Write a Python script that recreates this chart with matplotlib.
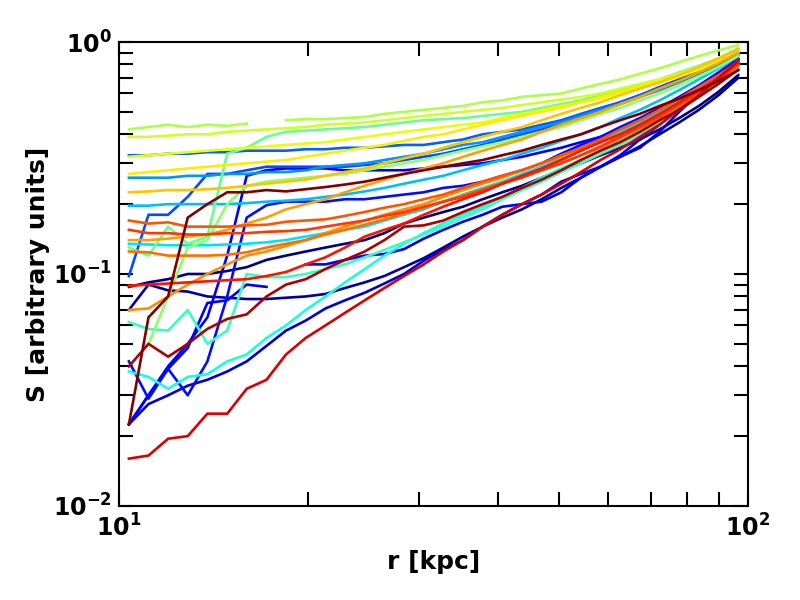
import numpy as np
import matplotlib
matplotlib.use("Agg")
import matplotlib.pyplot as plt
from matplotlib.ticker import FixedLocator, LogLocator, NullFormatter

nan = np.nan

# radius grid [kpc]
r = [10.37, 11.14, 11.97, 12.86, 13.82, 14.86, 15.96, 17.16, 18.43, 19.81,
     21.29, 22.87, 24.58, 26.42, 28.39, 30.51, 32.78, 35.23, 37.86, 40.68,
     43.72, 46.98, 50.48, 54.25, 58.29, 62.64, 67.32, 72.33, 77.74, 83.54,
     89.77, 96.47]

# S profiles (arbitrary units), one per object
s_q1 = [.088,.092,.095,.10,.10,.103,.107,.115,.12,.125,.13,.135,.14,.15,.165,.175,.185,.195,.21,.225,.24,.26,.28,.30,.325,.35,.38,.42,.47,.53,.61,.72]
s_q2 = [.07,.09,.085,.084,.08,.079,.078,.078,.079,.08,.082,.087,.092,.098,.107,.117,.13,.145,.16,.175,.19,.21,.235,.26,.29,.32,.355,.40,.45,.51,.59,.70]
s_p = [.0225,.0275,.03,.033,.035,.038,.042,.049,.057,.063,.071,.077,.083,.091,.10,.114,.127,.14,.16,.18,.20,.22,.25,.27,.29,.32,.35,.41,.50,.60,.72,.84]
s_n3 = [.0225,.03,.039,.048,.075,.077,.09,.088,nan,.11,.11,.115,.12,.122,.128,.142,.155,.168,.18,.195,.20,.205,.225,.26,.29,.325,.38,.44,.52,.62,.73,.84]
s_n2 = [.0225,.03,.04,.05,.065,.12,.265,.28,.285,.285,.285,.28,.28,.28,.28,.285,.29,.295,.30,.31,.32,.335,.35,.37,.39,.42,.45,.49,.55,.62,.71,.83]
s_z = [.042,.029,.039,.03,.042,.08,.175,.198,.205,.205,.205,.21,.21,.215,.22,.225,.235,.24,.25,.265,.28,.30,.33,.36,.39,.43,.47,.52,.58,.65,.74,.85]
s_n1 = [.098,.18,.18,.215,.27,.27,.28,.29,.29,.29,.29,.29,.295,.30,.31,.32,.33,.345,.36,.38,.40,.42,.45,.48,.51,.55,.59,.64,.69,.75,.82,.90]
s_d = [.325,.325,.33,.33,.335,.335,.34,.34,.34,.345,.345,.35,.35,.355,.36,.36,.37,.38,.40,.41,.42,.44,.46,.49,.52,.55,.59,.63,.68,.74,.81,.88]
s_f = [.26,.26,.26,.265,.265,.27,.27,.275,.275,.28,.29,.295,.30,.31,.32,.33,.345,.36,.37,.39,.41,.43,.45,.48,.51,.54,.58,.62,.67,.73,.80,.88]
s_h = [.197,.197,.20,.20,.20,.20,.202,.205,.207,.21,.215,.22,.227,.235,.245,.255,.265,.28,.295,.31,.33,.35,.375,.40,.43,.47,.51,.56,.62,.69,.77,.87]
s_l = [.135,.134,.133,.133,.133,.134,.135,.137,.14,.145,.15,.155,.16,.17,.18,.19,.205,.22,.235,.25,.27,.29,.315,.34,.37,.41,.45,.50,.56,.63,.71,.82]
s_t1 = [.038,.036,.032,.036,.037,.042,.045,.053,.06,.07,.08,.092,.105,.12,.135,.15,.165,.18,.195,.215,.235,.26,.285,.31,.34,.38,.42,.47,.53,.61,.70,.83]
s_t2 = [.062,.058,.057,.07,.05,.057,.10,.097,.097,.10,.105,.11,.118,.127,.137,.148,.16,.175,.19,.21,.23,.25,.275,.30,.33,.36,.40,.45,.51,.58,.67,.80]
s_g3 = [.13,.12,.16,.135,.145,.33,.35,.39,.41,.415,.42,.425,.43,.44,.45,.46,.465,.47,.48,.49,.50,.52,.54,.56,.59,.62,.65,.69,.74,.79,.85,.94]
s_g4 = [nan,.05,.08,.13,.14,.20,.24,.25,.255,.26,.265,.27,.28,.29,.30,.31,.325,.34,.355,.37,.39,.41,.43,.46,.49,.52,.56,.60,.65,.71,.78,.87]
s_a = [.42,.43,.44,.43,.44,.435,.445,nan,.46,.465,.465,.47,.475,.49,.50,.51,.52,.53,.55,.56,.58,.59,.60,.63,.66,.69,.73,.77,.82,.87,.92,.97]
s_b = [.39,.39,.395,.40,.40,.41,.415,.42,.425,.43,.44,.445,.45,.46,.47,.48,.49,.50,.51,.52,.535,.55,.565,.58,.60,.63,.66,.69,.73,.78,.84,.92]
s_c = [.32,.325,.33,.335,.34,.345,.35,.355,.36,.365,.37,.38,.39,.40,.41,.42,.43,.44,.45,.47,.49,.51,.53,.55,.57,.60,.63,.67,.71,.76,.82,.90]
s_e = [.27,.275,.28,.285,.29,.295,.30,.305,.31,.32,.33,.34,.35,.36,.375,.39,.40,.42,.44,.46,.48,.50,.52,.55,.58,.61,.64,.68,.73,.78,.84,.92]
s_g = [.225,.227,.23,.23,.232,.235,.24,.245,.25,.255,.265,.275,.285,.30,.315,.33,.35,.37,.39,.41,.43,.46,.49,.52,.55,.59,.63,.67,.72,.78,.85,.93]
s_k = [.14,.14,.142,.145,.148,.155,.165,.175,.19,.20,.21,.225,.24,.255,.27,.285,.30,.32,.34,.36,.38,.41,.44,.47,.50,.54,.58,.63,.68,.74,.81,.90]
s_k2 = [.07,.071,.08,.09,.10,.11,.12,.125,.132,.14,.15,.16,.17,.18,.19,.20,.215,.23,.245,.26,.28,.30,.32,.345,.37,.40,.44,.48,.53,.60,.68,.80]
s_m = [.125,.124,.12,.12,.12,.121,.124,.13,.135,.14,.148,.155,.163,.172,.182,.193,.205,.218,.232,.247,.263,.28,.30,.325,.35,.385,.425,.47,.53,.60,.68,.79]
s_i = [.17,.165,.167,.16,.16,.16,.162,.163,.168,.17,.172,.178,.185,.193,.20,.21,.22,.235,.25,.265,.28,.30,.325,.35,.38,.42,.46,.51,.57,.64,.72,.82]
s_j = [.155,.15,.15,.148,.148,.15,.15,.152,.153,.155,.16,.165,.17,.178,.185,.195,.205,.215,.23,.245,.26,.28,.30,.325,.355,.39,.43,.48,.54,.61,.69,.80]
s_s = [.089,.09,.091,.092,.093,.094,.095,.098,.102,.11,.118,.13,.145,.155,.165,.18,.195,.21,.225,.245,.265,.285,.31,.34,.37,.40,.44,.49,.55,.62,.70,.82]
s_r = [.016,.0165,.0195,.02,.025,.025,.032,.035,.045,.053,.06,.068,.077,.087,.098,.11,.125,.14,.16,.18,.20,.22,.245,.275,.31,.345,.39,.44,.51,.59,.70,.83]
s_dr2 = [.04,.05,.044,.05,.058,.064,.067,.08,.09,.095,.105,.115,.125,.14,.16,.162,.17,.185,.20,.215,.235,.255,.28,.31,.34,.37,.41,.46,.51,.58,.66,.76]
s_dr1 = [.0225,.065,.08,.175,.20,.225,.225,.23,.227,.232,.237,.243,.25,.26,.27,.28,.29,.30,.31,.325,.34,.36,.38,.40,.43,.46,.49,.53,.57,.62,.68,.755]

profiles = [s_q1, s_q2, s_p, s_n3, s_n2, s_z, s_n1, s_d, s_f, s_h, s_l,
            s_t1, s_t2, s_g3, s_g4, s_a, s_b, s_c, s_e, s_g, s_k, s_k2,
            s_m, s_i, s_j, s_s, s_r, s_dr2, s_dr1]
# position of each profile in the jet colormap
cpos = [0.0, 0.03, 0.08, 0.11, 0.12, 0.14, 0.2, 0.22, 0.27, 0.31, 0.345,
        0.38, 0.42, 0.48, 0.52, 0.56, 0.6, 0.63, 0.66, 0.70, 0.74, 0.76,
        0.79, 0.82, 0.85, 0.89, 0.92, 0.96, 1.0]

plt.rcParams['font.family'] = ['DejaVu Sans']
plt.rcParams['font.weight'] = 'bold'

fig = plt.figure(figsize=(8, 6), dpi=100)
ax = fig.add_axes([0.14875, 0.1567, 0.78625, 0.7733])

cmap = plt.get_cmap('jet')
for vals, c in zip(profiles, cpos):
    ax.plot(r, vals, color=cmap(c), lw=1.9)

ax.set_xscale('log')
ax.set_yscale('log')
ax.set_xlim(10, 100)
ax.set_ylim(0.01, 1)

ax.xaxis.set_major_locator(FixedLocator([10, 100]))
ax.yaxis.set_major_locator(FixedLocator([0.01, 0.1, 1]))
ax.xaxis.set_minor_locator(LogLocator(base=10, subs=np.arange(2, 10)))
ax.yaxis.set_minor_locator(LogLocator(base=10, subs=np.arange(2, 10)))
ax.xaxis.set_minor_formatter(NullFormatter())
ax.yaxis.set_minor_formatter(NullFormatter())
ax.set_xticklabels([r'$\mathbf{10^{1}}$', r'$\mathbf{10^{2}}$'])
ax.set_yticklabels([r'$\mathbf{10^{-2}}$', r'$\mathbf{10^{-1}}$', r'$\mathbf{10^{0}}$'])

ax.tick_params(which='both', direction='in', top=True, right=True,
               length=10, width=1.5, labelsize=17)
ax.tick_params(axis='x', pad=6)
ax.tick_params(axis='y', pad=5)
for sp in ax.spines.values():
    sp.set_linewidth(1.5)

ax.set_xlabel('r [kpc]', fontsize=18, fontweight='bold', labelpad=6)
ax.set_ylabel('S [arbitrary units]', fontsize=18, fontweight='bold', labelpad=2)

fig.savefig('out.png', dpi=100)
